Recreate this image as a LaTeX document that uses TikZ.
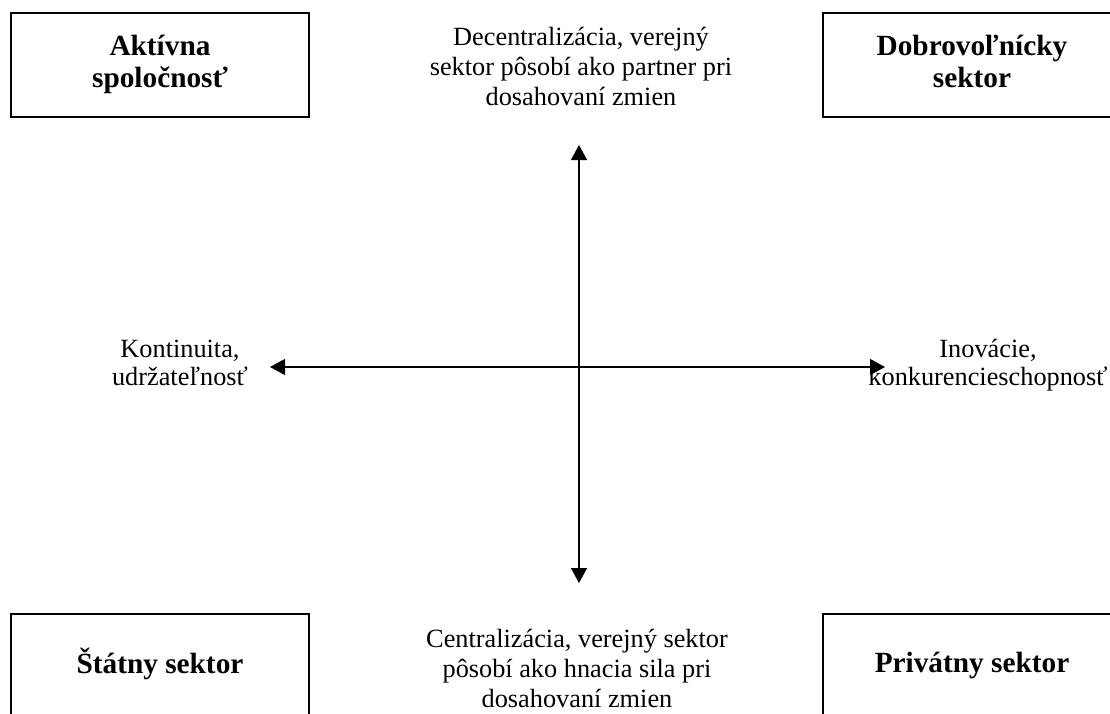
\documentclass[tikz,border=0pt]{standalone}
\usepackage{fontspec}
\setmainfont{Liberation Serif}
\usetikzlibrary{arrows.meta}
\begin{document}
\begin{tikzpicture}[x=1pt,y=-1pt,
  sector/.style={draw,line width=2.6pt,minimum width=298pt,minimum height=104pt,
    inner sep=0pt,align=center,font=\fontsize{29.3}{32.5}\selectfont\bfseries},
  pole/.style={align=center,inner sep=0pt,font=\fontsize{26.3}{30}\selectfont},
  sidepole/.style={align=center,inner sep=0pt,font=\fontsize{26.3}{26.5}\selectfont},
  axis/.style={line width=1.3pt,{Triangle[length=15pt,width=16pt]}-{Triangle[length=15pt,width=16pt]}}]
\useasboundingbox (0,0) rectangle (1110,713);
\clip (0,0) rectangle (1110,713);

% four sectors in the corners
\node[sector] (active) at (160,65) {\strut Aktívna\\\strut spoločnosť};
\node[sector] (volunt) at (972,65) {\strut Dobrovoľnícky\\\strut sektor};
\node[sector] (state) at (160,666) {\strut Štátny sektor};
\node[sector] (private) at (972,666) {\strut Privátny sektor};

% labels of the axis ends
\node[pole] (decent) at (581,69) {\strut Decentralizácia, verejný\\\strut sektor pôsobí ako partner pri\\\strut dosahovaní zmien};
\node[pole] (cent) at (577,671) {\strut Centralizácia, verejný sektor\\\strut pôsobí ako hnacia sila pri\\\strut dosahovaní zmien};
\node[sidepole] (cont) at (180,366) {\strut Kontinuita,\\\strut udržateľnosť};
\node[sidepole] (innov) at (988,366) {\strut Inovácie,\\\strut konkurencieschopnosť};

% axis end points
\coordinate (top) at (579,145);
\coordinate (bottom) at (579,583);
\coordinate (left) at (270,367);
\coordinate (right) at (885,367);

\draw[axis] (bottom) -- (top);
\draw[axis] (left) -- (right);
\end{tikzpicture}
\end{document}
